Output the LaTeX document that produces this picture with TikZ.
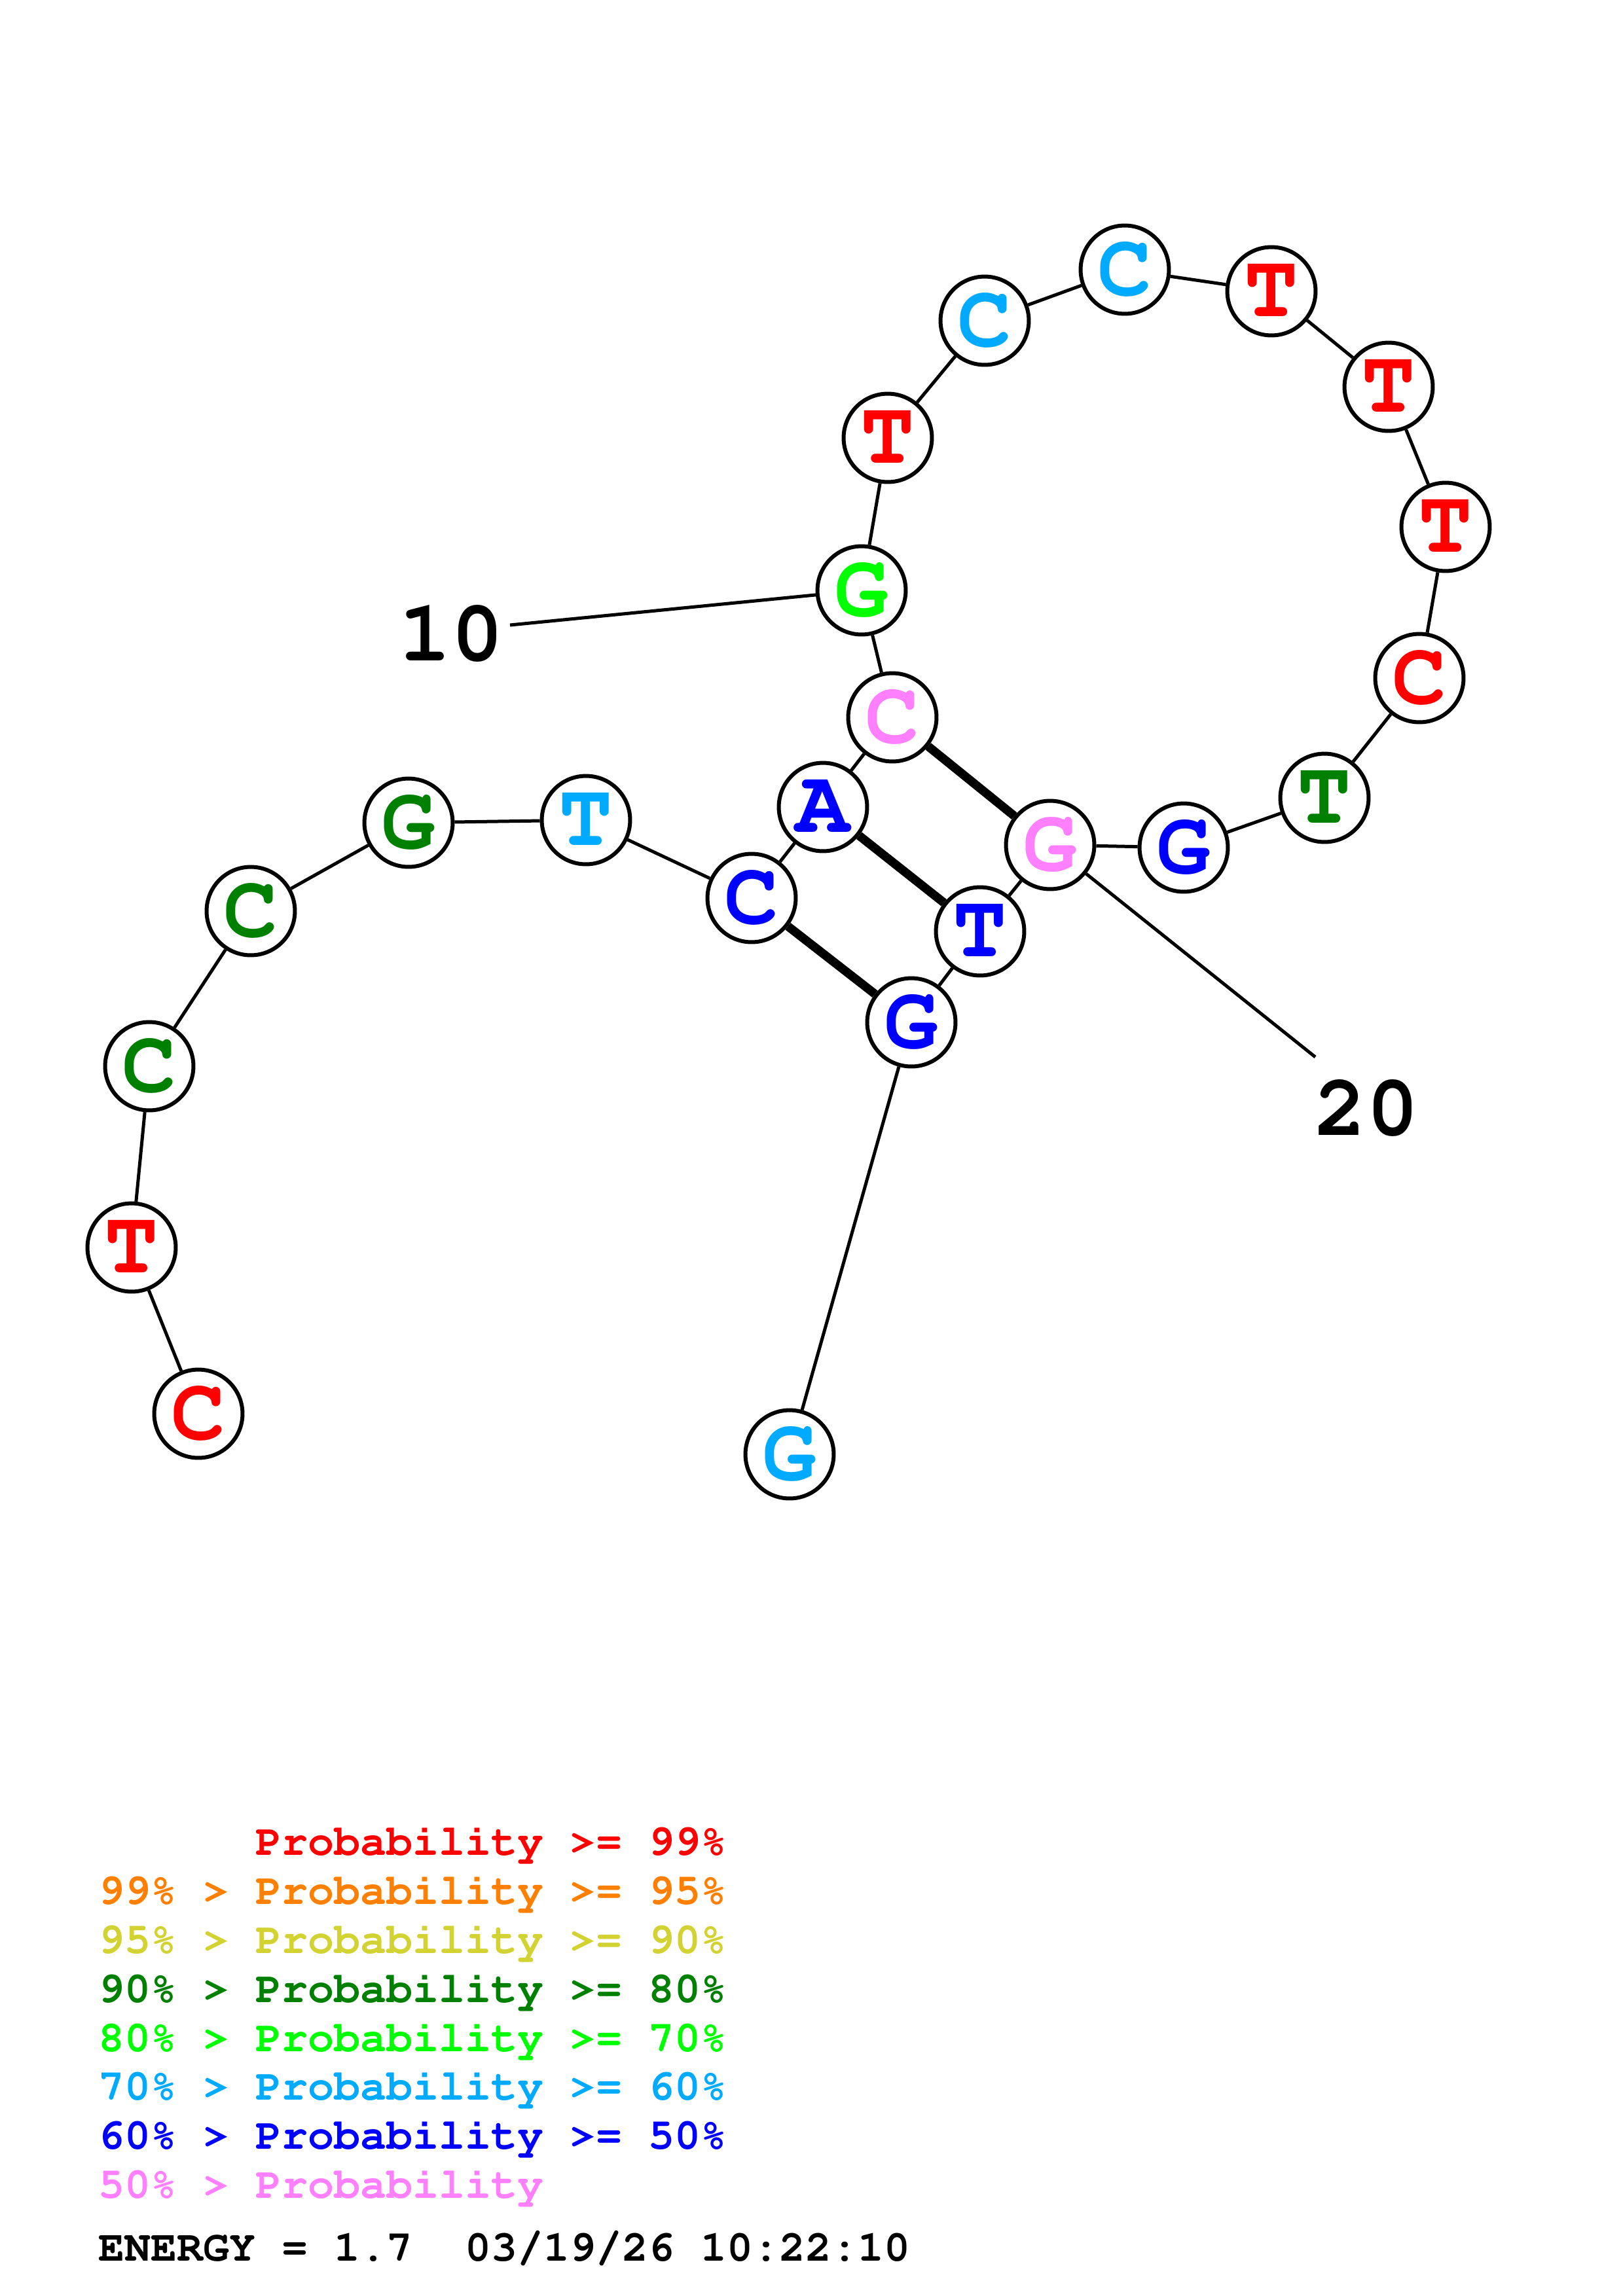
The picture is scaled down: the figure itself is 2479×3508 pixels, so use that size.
\documentclass[tikz,border=0pt]{standalone}
\usepackage[T1]{fontenc}
\usepackage{courier}
\definecolor{cRed}{RGB}{255,0,0}
\definecolor{cOrange}{RGB}{255,128,0}
\definecolor{cYellow}{RGB}{210,210,50}
\definecolor{cDGreen}{RGB}{0,128,0}
\definecolor{cGreen}{RGB}{0,255,0}
\definecolor{cLBlue}{RGB}{0,170,255}
\definecolor{cBlue}{RGB}{0,0,255}
\definecolor{cPink}{RGB}{255,128,255}
\tikzset{
  base/.style={circle, draw=black, line width=1.44pt, fill=white, minimum size=32.4pt, inner sep=0pt,
    font=\fontsize{33}{33}\selectfont\ttfamily\bfseries},
  bb/.style={line width=1.2pt},
  pair/.style={line width=3.2pt},
  numlab/.style={font=\fontsize{32}{32}\selectfont\ttfamily\bfseries, inner sep=0pt},
  leg/.style={font=\fontsize{16}{16}\selectfont\ttfamily\bfseries, anchor=base west, inner sep=0pt}
}
\begin{document}
\begin{tikzpicture}[x=0.24013pt,y=-0.24013pt]
\useasboundingbox[fill=white] (0,0) rectangle (2479,3508);
% nodes
\node[base,text=cRed]    (n1)  at (303,2160) {C};
\node[base,text=cRed]    (n2)  at (201,1906) {T};
\node[base,text=cDGreen] (n3)  at (228,1629) {C};
\node[base,text=cDGreen] (n4)  at (383,1392) {C};
\node[base,text=cDGreen] (n5)  at (624,1257) {G};
\node[base,text=cLBlue]  (n6)  at (895,1253) {T};
\node[base,text=cBlue]   (n7)  at (1148,1372) {C};
\node[base,text=cBlue]   (n8)  at (1257,1233) {A};
\node[base,text=cPink]   (n9)  at (1363,1096) {C};
\node[base,text=cGreen]  (n10) at (1316,902) {G};
\node[base,text=cRed]    (n11) at (1356,669) {T};
\node[base,text=cLBlue]  (n12) at (1504,490) {C};
\node[base,text=cLBlue]  (n13) at (1718,412) {C};
\node[base,text=cRed]    (n14) at (1942,445) {T};
\node[base,text=cRed]    (n15) at (2121,591) {T};
\node[base,text=cRed]    (n16) at (2208,805) {T};
\node[base,text=cRed]    (n17) at (2168,1036) {C};
\node[base,text=cDGreen] (n18) at (2023,1219) {T};
\node[base,text=cBlue]   (n19) at (1808,1295) {G};
\node[base,text=cPink]   (n20) at (1604,1291) {G};
\node[base,text=cBlue]   (n21) at (1497,1423) {T};
\node[base,text=cBlue]   (n22) at (1392,1562) {G};
\node[base,text=cLBlue]  (n23) at (1206,2222) {G};
% backbone
\foreach \a/\b in {1/2,2/3,3/4,4/5,5/6,6/7,7/8,8/9,9/10,10/11,11/12,12/13,13/14,14/15,15/16,16/17,17/18,18/19,19/20,20/21,21/22,22/23}
  \draw[bb] (n\a) -- (n\b);
% pairs
\draw[pair] (n7) -- (n22);
\draw[pair] (n8) -- (n21);
\draw[pair] (n9) -- (n20);
% numbering
\node[numlab] (l10) at (689,969) {10};
\coordinate (e10) at (779,955);
\draw[bb] (n10) -- (e10);
\node[numlab] (l20) at (2087,1694) {20};
\coordinate (e20) at (2009,1615);
\draw[bb] (n20) -- (e20);
% legend
\node[leg,text=cRed]    (g1) at (150,2834) {\phantom{99\% > }Probability >= 99\%};
\node[leg,text=cOrange] (g2) at (150,2909) {99\% > Probability >= 95\%};
\node[leg,text=cYellow] (g3) at (150,2984) {95\% > Probability >= 90\%};
\node[leg,text=cDGreen] (g4) at (150,3059) {90\% > Probability >= 80\%};
\node[leg,text=cGreen]  (g5) at (150,3134) {80\% > Probability >= 70\%};
\node[leg,text=cLBlue]  (g6) at (150,3208) {70\% > Probability >= 60\%};
\node[leg,text=cBlue]   (g7) at (150,3283) {60\% > Probability >= 50\%};
\node[leg,text=cPink]   (g8) at (150,3358) {50\% > Probability};
\node[leg,text=black]   (g9) at (150,3454) {ENERGY = 1.7\ \ 03/19/26 10:22:10};
\end{tikzpicture}
\end{document}
